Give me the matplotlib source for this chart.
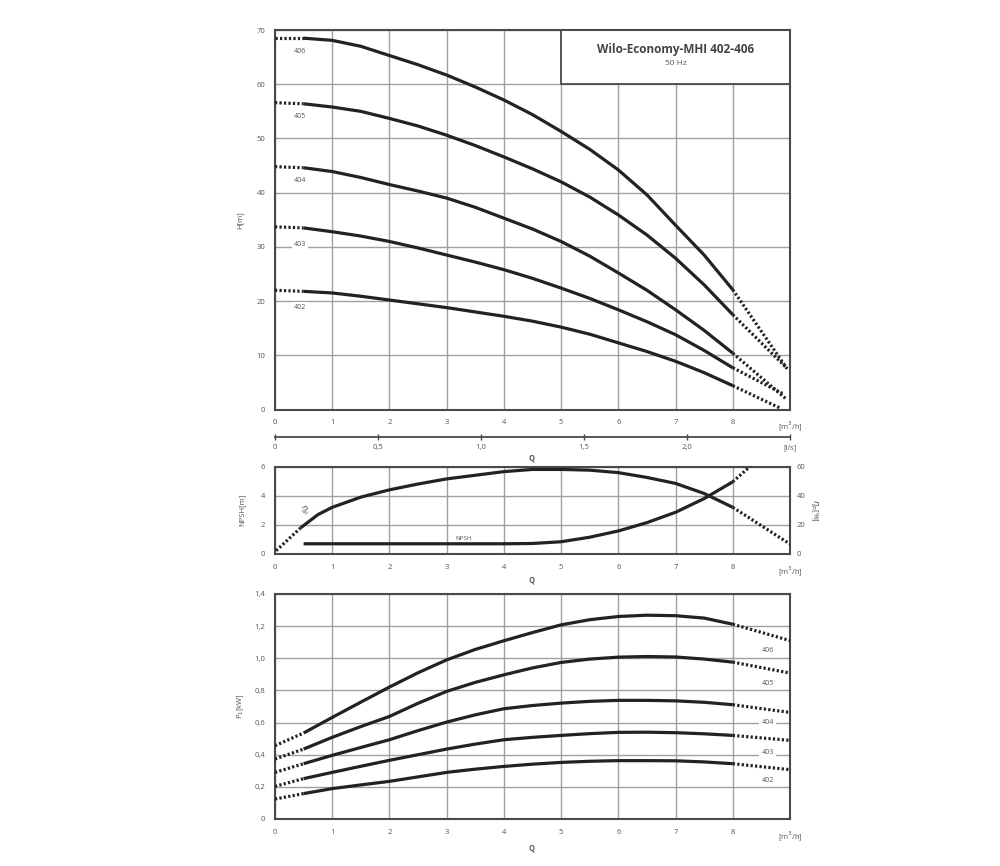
import numpy as np
import matplotlib.pyplot as plt
from matplotlib.patches import Rectangle

plt.rcParams['font.family'] = ['Open Sans', 'DejaVu Sans']

# --- H(Q) curves, read at 0.5 m3/h steps (solid part 0.5..8) ---
q_h = [0, 0.5, 1, 1.5, 2, 2.5, 3, 3.5, 4, 4.5, 5, 5.5, 6, 6.5, 7, 7.5, 8]
h_406 = [68.5, 68.5, 68.1, 67.0, 65.3, 63.6, 61.7, 59.5, 57.1, 54.4, 51.3, 48.0, 44.2, 39.6, 34.0, 28.5, 22.1]
h_405 = [56.6, 56.4, 55.8, 55.0, 53.7, 52.3, 50.6, 48.7, 46.6, 44.4, 42.0, 39.2, 35.9, 32.2, 27.9, 23.0, 17.5]
h_404 = [44.8, 44.6, 43.9, 42.8, 41.5, 40.3, 39.0, 37.3, 35.3, 33.3, 31.0, 28.3, 25.2, 22.0, 18.4, 14.6, 10.4]
h_403 = [33.7, 33.5, 32.8, 32.0, 31.0, 29.8, 28.5, 27.2, 25.8, 24.2, 22.4, 20.5, 18.4, 16.2, 13.8, 10.9, 7.7]
h_402 = [22.0, 21.8, 21.5, 20.9, 20.2, 19.5, 18.8, 18.0, 17.2, 16.3, 15.2, 13.9, 12.3, 10.7, 8.9, 6.8, 4.4]
q_h_end = [8.95, 8.92, 8.95, 8.9, 8.82]
h_end = [7.5, 7.9, 1.8, 2.8, 0.3]
h_label_y = [66.0, 54.0, 42.2, 30.4, 18.8]

# --- P1(Q) curves ---
q_p = [0, 0.5, 1, 1.5, 2, 2.5, 3, 3.5, 4, 4.5, 5, 5.5, 6, 6.5, 7, 7.5, 8, 9]
p_406 = [0.456, 0.535, 0.632, 0.727, 0.821, 0.910, 0.990, 1.055, 1.109, 1.160, 1.208, 1.240, 1.260, 1.268, 1.265, 1.250, 1.212, 1.110]
p_405 = [0.373, 0.435, 0.508, 0.575, 0.638, 0.720, 0.794, 0.850, 0.897, 0.940, 0.974, 0.995, 1.007, 1.011, 1.008, 0.995, 0.976, 0.908]
p_404 = [0.290, 0.344, 0.396, 0.445, 0.493, 0.550, 0.603, 0.648, 0.686, 0.706, 0.721, 0.732, 0.738, 0.738, 0.735, 0.726, 0.711, 0.663]
p_403 = [0.203, 0.251, 0.290, 0.328, 0.365, 0.400, 0.435, 0.466, 0.493, 0.508, 0.520, 0.531, 0.539, 0.540, 0.537, 0.530, 0.520, 0.489]
p_402 = [0.124, 0.158, 0.189, 0.212, 0.234, 0.262, 0.290, 0.310, 0.327, 0.341, 0.352, 0.359, 0.363, 0.363, 0.362, 0.355, 0.344, 0.307]
p_label_y = [1.047, 0.841, 0.601, 0.414, 0.238]

pump_names = ['406', '405', '404', '403', '402']

# --- efficiency and NPSH ---
q_eta = [0.02, 0.45, 0.75, 1, 1.5, 2, 2.5, 3, 3.5, 4, 4.5, 5, 5.5, 6, 6.5, 7, 7.5, 8, 9]
eta = [2.3, 18.0, 27.0, 32.0, 39.0, 44.0, 48.0, 51.5, 54.0, 56.5, 58.0, 58.0, 57.5, 55.8, 52.5, 48.4, 41.5, 32.0, 6.8]
q_npsh = [0.5, 1, 2, 3, 4, 4.5, 5, 5.5, 6, 6.5, 7, 7.5, 8, 8.3]
npsh = [0.7, 0.7, 0.7, 0.7, 0.7, 0.72, 0.84, 1.15, 1.58, 2.15, 2.86, 3.8, 4.95, 6.0]

ls_ticks = [0, 0.5, 1.0, 1.5, 2.0, 2.5]
ls_labels = ['0', '0,5', '1,0', '1,5', '2,0', '[l/s]']

LINE = '#222222'
TXT = '#555555'
DOT = (0, (0.7, 0.7))


def style_axes(ax, yticks, ylabels):
    ax.set_xlim(0, 9)
    ax.set_xticks(range(10))
    ax.set_xticklabels([str(i) for i in range(9)] + ['[m$^3$/h]'])
    ax.set_yticks(yticks)
    ax.set_yticklabels(ylabels)
    ax.set_ylim(yticks[0], yticks[-1])
    ax.grid(True, color='#a0a0a0', lw=1.0)
    ax.set_axisbelow(True)
    ax.tick_params(length=0, labelsize=5.5, labelcolor=TXT, pad=7)
    for s in ax.spines.values():
        s.set_color('#4a4a4a')
        s.set_linewidth(1.5)


def draw_curve(ax, x, y, i0, i1):
    # dotted start, solid middle, dotted end
    ax.plot(x[:i0 + 1], y[:i0 + 1], color=LINE, lw=2.3, ls=DOT, zorder=3)
    ax.plot(x[i0:i1 + 1], y[i0:i1 + 1], color=LINE, lw=2.3, solid_capstyle='butt',
            solid_joinstyle='round', zorder=3)
    ax.plot(x[i1:], y[i1:], color=LINE, lw=2.3, ls=DOT, zorder=3)


fig = plt.figure(figsize=(10, 8.66), dpi=100)
ax1 = fig.add_axes([0.275, 0.5271, 0.515, 0.4382])
ax2 = fig.add_axes([0.275, 0.3603, 0.515, 0.101])
ax3 = fig.add_axes([0.275, 0.0543, 0.515, 0.2598])

# ---------- H(Q) ----------
style_axes(ax1, list(range(0, 71, 10)), [str(v) for v in range(0, 71, 10)])
h_all = [h_406, h_405, h_404, h_403, h_402]
for k, h in enumerate(h_all):
    x = q_h + [q_h_end[k]]
    y = h + [h_end[k]]
    draw_curve(ax1, x, y, 1, len(q_h) - 1)
    ax1.text(0.44, h_label_y[k], pump_names[k], fontsize=5, color=TXT, ha='center', va='center',
             bbox=dict(facecolor='white', edgecolor='none', pad=1.5), zorder=2)
ax1.add_patch(Rectangle((5, 60), 4, 10, facecolor='white', edgecolor='#4a4a4a', lw=1.3, zorder=2))
ax1.text(7, 66.4, 'Wilo-Economy-MHI 402-406', fontsize=8.5, fontweight='bold', color='#444444',
         ha='center', va='center', zorder=4)
ax1.text(7, 63.9, '50 Hz', fontsize=6, color=TXT, ha='center', va='center', zorder=4)
ax1.set_ylabel('H[m]', fontsize=5.5, color=TXT)
ax1.yaxis.set_label_coords(-0.062, 0.5)

sec = ax1.secondary_xaxis(-0.072, functions=(lambda q: q / 3.6, lambda l: l * 3.6))
sec.set_xticks(ls_ticks)
sec.set_xticklabels(ls_labels)
sec.tick_params(direction='inout', length=4, width=1, color='#4a4a4a', labelsize=5.5,
                labelcolor=TXT, pad=3)
sec.spines['bottom'].set_color('#4a4a4a')
sec.spines['bottom'].set_linewidth(1.3)
fig.text(0.532, 1 - 458 / 866, 'Q', fontsize=5.5, fontweight='bold', color=TXT, ha='center', va='center')

# ---------- NPSH / eta ----------
style_axes(ax2, [0, 2, 4, 6], ['0', '2', '4', '6'])
ax2.set_ylabel('NPSH[m]', fontsize=5.5, color=TXT)
ax2.yaxis.set_label_coords(-0.058, 0.5)
ax2b = ax2.twinx()
ax2b.set_ylim(0, 60)
ax2b.set_yticks([0, 20, 40, 60])
ax2b.tick_params(length=0, labelsize=5.5, labelcolor=TXT, pad=5)
for s in ax2b.spines.values():
    s.set_visible(False)
ax2b.set_ylabel('$\\eta_p$[%]', fontsize=6, color=TXT, rotation=270, va='center')
ax2b.yaxis.set_label_coords(1.045, 0.5)
draw_curve(ax2b, q_eta, eta, 1, len(q_eta) - 2)
draw_curve(ax2, q_npsh, npsh, 0, len(q_npsh) - 2)
ax2.text(3.3, 1.05, 'NPSH', fontsize=4.5, color=TXT, ha='center', va='center')
ax2.text(0.5, 3.0, '$\\eta_p$', fontsize=6, color=TXT, ha='center', va='center', rotation=-55)
fig.text(0.532, 1 - 580 / 866, 'Q', fontsize=5.5, fontweight='bold', color=TXT, ha='center', va='center')

# ---------- P1(Q) ----------
p_ticks = [0, 0.2, 0.4, 0.6, 0.8, 1.0, 1.2, 1.4]
style_axes(ax3, p_ticks, ['0', '0,2', '0,4', '0,6', '0,8', '1,0', '1,2', '1,4'])
p_all = [p_406, p_405, p_404, p_403, p_402]
for k, p in enumerate(p_all):
    draw_curve(ax3, q_p, p, 1, len(q_p) - 2)
    ax3.text(8.61, p_label_y[k], pump_names[k], fontsize=5, color=TXT, ha='center', va='center',
             bbox=dict(facecolor='white', edgecolor='none', pad=1.5), zorder=2)
ax3.set_ylabel('P$_1$[kW]', fontsize=5.5, color=TXT)
ax3.yaxis.set_label_coords(-0.056, 0.5)
fig.text(0.532, 1 - 848 / 866, 'Q', fontsize=5.5, fontweight='bold', color=TXT, ha='center', va='center')

fig.savefig('out.png', dpi=100, facecolor='white')
